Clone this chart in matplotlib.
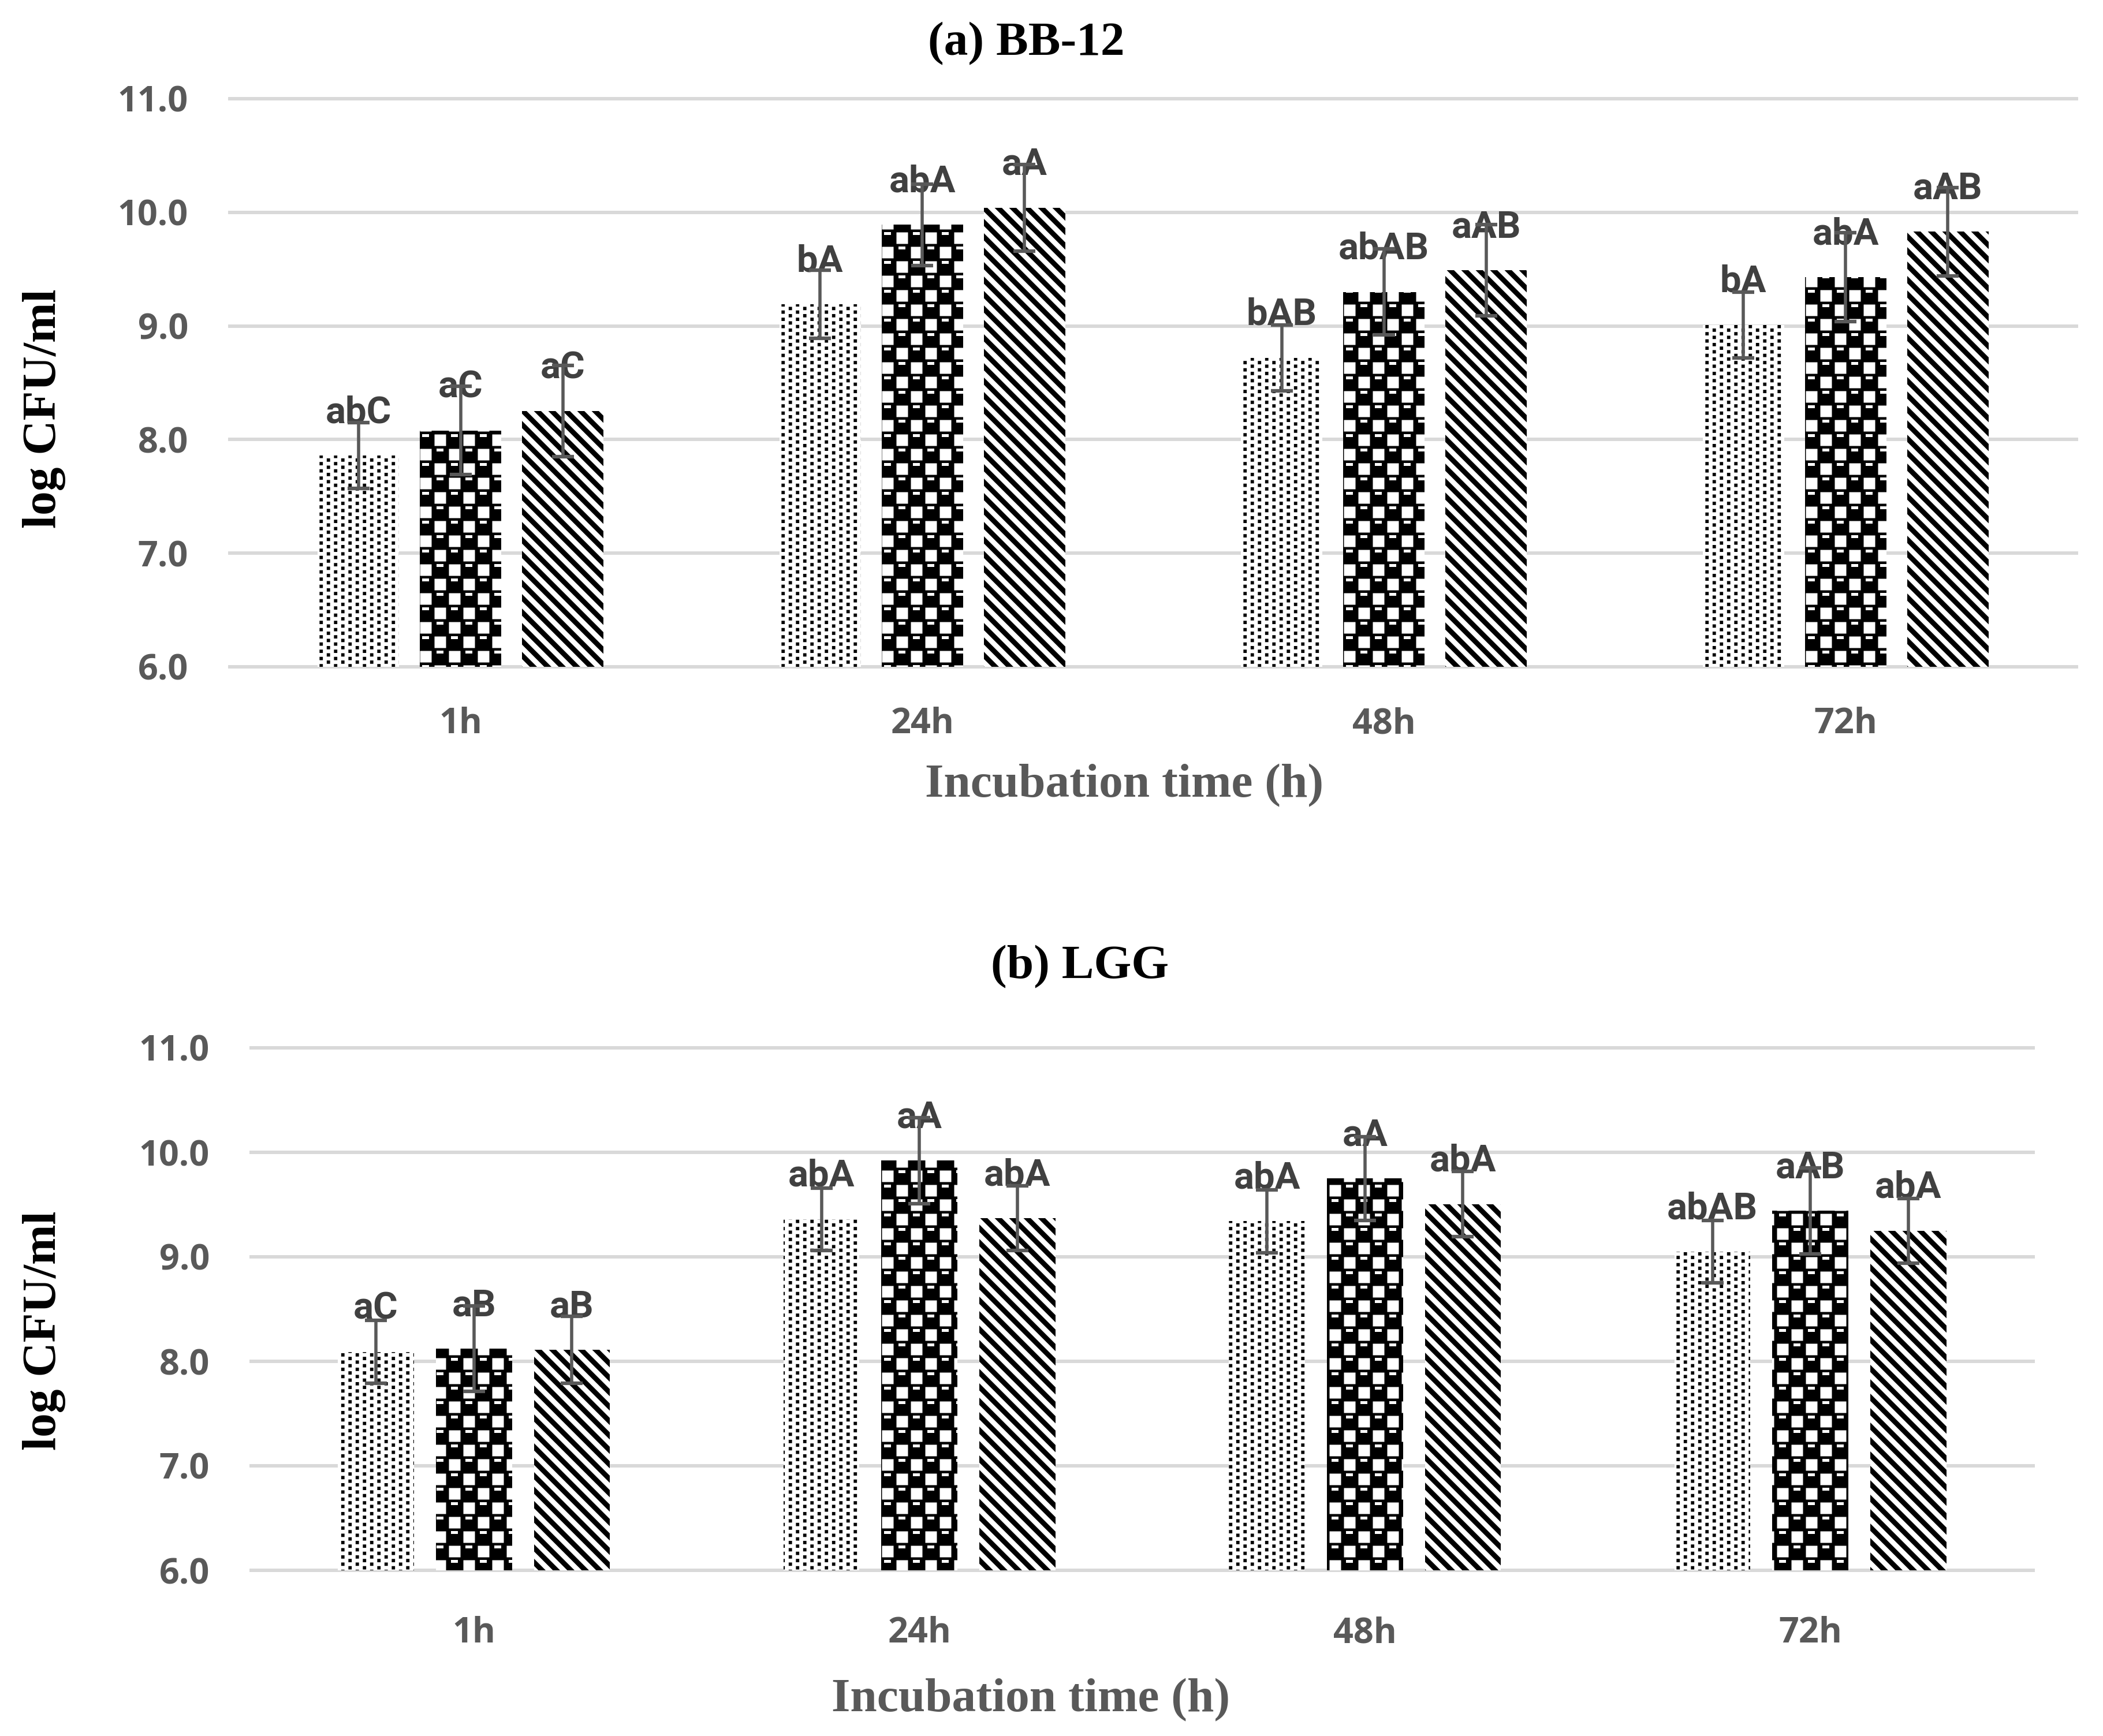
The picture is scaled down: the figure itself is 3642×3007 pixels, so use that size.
import numpy as np
import matplotlib
matplotlib.use('Agg')
import matplotlib.pyplot as plt
import matplotlib.hatch as mhatch
from matplotlib.path import Path

# ---------------- data ----------------
categories = ['1h', '24h', '48h', '72h']
yticks = [6.0, 7.0, 8.0, 9.0, 10.0, 11.0]

# (a) BB-12
bb_s1 = [7.86, 9.19, 8.72, 9.01]
bb_e1 = [0.29, 0.30, 0.29, 0.29]
bb_s2 = [8.08, 9.89, 9.30, 9.43]
bb_e2 = [0.39, 0.36, 0.38, 0.39]
bb_s3 = [8.25, 10.04, 9.49, 9.83]
bb_e3 = [0.40, 0.38, 0.40, 0.39]
bb_l1 = ['abC', 'bA', 'bAB', 'bA']
bb_l2 = ['aC', 'abA', 'abAB', 'abA']
bb_l3 = ['aC', 'aA', 'aAB', 'aAB']

# (b) LGG
lgg_s1 = [8.09, 9.36, 9.34, 9.05]
lgg_e1 = [0.30, 0.30, 0.30, 0.30]
lgg_s2 = [8.12, 9.92, 9.75, 9.44]
lgg_e2 = [0.41, 0.41, 0.40, 0.41]
lgg_s3 = [8.11, 9.37, 9.505, 9.25]
lgg_e3 = [0.32, 0.31, 0.31, 0.31]
lgg_l1 = ['aC', 'abA', 'abA', 'abAB']
lgg_l2 = ['aB', 'aA', 'aA', 'aAB']
lgg_l3 = ['aB', 'abA', 'abA', 'abA']

# ---------------- figure settings ----------------
W, H = 3642, 3007
DPI = 100

# ---------------- custom fill patterns (hatch tile = 100 px) ----------------
def _rect(x0, y0, w, h):
    # coordinates given in px within a 100 px tile, y downward
    x0, y0, w, h = x0 / 100, y0 / 100, w / 100, h / 100
    return np.array([[x0, 1 - y0], [x0 + w, 1 - y0],
                     [x0 + w, 1 - (y0 + h)], [x0, 1 - (y0 + h)]])

dot_polys = []
for i in range(8):
    for j in range(16):
        if (i + j) % 2 == 0:
            cx, cy = 12.5 * i + 6.25, 6.25 * j + 3.125
            dot_polys.append(_rect(cx - 2.9, cy - 2.9, 5.8, 5.8))

checker_polys = []
for i in range(4):
    for j in range(4):
        cx, cy = 25 * i + 12.5, 25 * j + 12.5
        if (i + j) % 2 == 0:
            checker_polys.append(_rect(cx - 10, cy - 10, 20, 20))
        else:
            checker_polys.append(_rect(cx - 6.5, 25 * j + 2, 12, 5))

stripe_polys = []
t = 0.125
for k in range(-6, 6):
    c = k * 0.25
    pts = np.array([[-1, c - 1], [2, c + 2], [2, c + 2 + t], [-1, c - 1 + t]])
    pts[:, 1] = 1 - pts[:, 1]
    stripe_polys.append(pts)


def _make_pattern(char, polys):
    class _Fill(mhatch.HatchPatternBase):
        def __init__(self, hatch, density):
            self.active = char in hatch
            self.num_vertices = (sum(len(p) + 1 for p in polys)
                                 if self.active else 0)

        def set_vertices_and_codes(self, vertices, codes):
            i = 0
            for p in polys:
                k = len(p)
                vertices[i:i + k] = p
                vertices[i + k] = p[0]
                codes[i] = Path.MOVETO
                codes[i + 1:i + k] = Path.LINETO
                codes[i + k] = Path.CLOSEPOLY
                i += k + 1
    return _Fill

try:
    _types = [_make_pattern('.', dot_polys),
              _make_pattern('o', checker_polys),
              _make_pattern('\\', stripe_polys)]
    if hasattr(mhatch, '_hatch_types'):
        mhatch._hatch_types = _types
        plt.rcParams['hatch.linewidth'] = 0.0
    else:
        plt.rcParams['hatch.linewidth'] = 2.0
except Exception:
    plt.rcParams['hatch.linewidth'] = 2.0

styles = [
    dict(face='white', hc='black', hatch='.'),
    dict(face='black', hc='white', hatch='o'),
    dict(face='white', hc='black', hatch='\\'),
]

SERIF = 'Liberation Serif'
TICKFONT = 'Open Sans'
LABFONT = 'Roboto'
GRAY = '#595959'


def fx(px):
    return px / W


def fy(py):
    return 1 - py / H


def draw_panel(ax, vals, errs, labs, width, step, xpad):
    x = np.arange(len(categories))
    for k in range(3):
        st = styles[k]
        pos = x + (k - 1) * step
        ax.bar(pos, vals[k], width, color=st['face'], edgecolor=st['hc'],
               linewidth=0, hatch=st['hatch'], zorder=2)
        ax.errorbar(pos, vals[k], yerr=errs[k], fmt='none', ecolor=GRAY,
                    elinewidth=4.0, capsize=13.7, capthick=4.5, zorder=4)
        for p, v, lab in zip(pos, vals[k], labs[k]):
            ax.annotate(lab, (p, v), xytext=(0, 41), textcoords='offset points',
                        ha='center', va='baseline', fontsize=47,
                        fontweight='bold', family=LABFONT, color='#404040',
                        zorder=3)
    ax.set_xlim(-0.5, 3.5)
    ax.set_ylim(6, 11)
    ax.set_yticks(yticks)
    ax.set_yticklabels([f'{v:.1f}' for v in yticks])
    ax.set_xticks(x)
    ax.set_xticklabels(categories)
    for s in ax.spines.values():
        s.set_visible(False)
    ax.tick_params(axis='both', length=0, labelsize=44, labelcolor=GRAY)
    ax.tick_params(axis='y', pad=52)
    ax.tick_params(axis='x', pad=xpad)
    for lab in ax.get_xticklabels() + ax.get_yticklabels():
        lab.set_fontfamily(TICKFONT)
        lab.set_fontweight('bold')
    ax.set_axisbelow(True)
    ax.yaxis.grid(True, color='#D9D9D9', linewidth=4.3)
    ax.xaxis.grid(False)
    for gl in ax.get_ygridlines():
        gl.set_clip_on(False)


fig = plt.figure(figsize=(W / DPI, H / DPI), dpi=DPI)
fig.patch.set_facecolor('white')

ax1 = fig.add_axes([fx(398), fy(1155), 3198 / W, 984 / H])
draw_panel(ax1, [bb_s1, bb_s2, bb_s3], [bb_e1, bb_e2, bb_e3],
           [bb_l1, bb_l2, bb_l3], 0.176, 0.2214, 50)

ax2 = fig.add_axes([fx(435), fy(2720), 3086 / W, 905 / H])
draw_panel(ax2, [lgg_s1, lgg_s2, lgg_s3], [lgg_e1, lgg_e2, lgg_e3],
           [lgg_l1, lgg_l2, lgg_l3], 0.171, 0.22, 57)

tkw = dict(fontsize=60, fontweight='bold', family=SERIF)
fig.text(fx(1777), fy(95), '(a) BB-12', ha='center', va='baseline',
         color='black', **tkw)
fig.text(fx(1870), fy(1694), '(b) LGG', ha='center', va='baseline',
         color='black', **tkw)
fig.text(fx(1947), fy(1380), 'Incubation time (h)', ha='center',
         va='baseline', color=GRAY, **tkw)
fig.text(fx(1785), fy(2964), 'Incubation time (h)', ha='center',
         va='baseline', color=GRAY, **tkw)
fig.text(fx(77), fy(708), 'log CFU/ml', ha='center', va='center',
         rotation=90, color='black', **tkw)
fig.text(fx(77), fy(2305), 'log CFU/ml', ha='center', va='center',
         rotation=90, color='black', **tkw)

fig.savefig('out.png', dpi=DPI, facecolor='white')
